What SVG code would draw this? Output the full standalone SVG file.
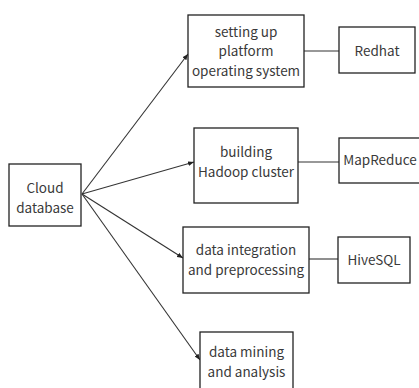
<svg xmlns="http://www.w3.org/2000/svg" width="419" height="388" viewBox="0 0 419 388">
<style>
rect{fill:#fff;stroke:#222;stroke-width:1.3}
text{font-family:"Noto Sans CJK SC","Noto Sans",sans-serif;font-size:13.5px;fill:#3a3a3a;text-anchor:middle}
.c line{stroke:#333;stroke-width:1.1}
</style>
<defs>
<marker id="ah" viewBox="0 0 10 10" refX="10" refY="5" markerWidth="6" markerHeight="6" orient="auto" markerUnits="userSpaceOnUse">
<path d="M0,1 L10,5 L0,9 z" fill="#222"/>
</marker>
</defs>
<rect width="419" height="388" style="fill:#fff;stroke:none"/>
<g class="c" id="connectors">
<line x1="82" y1="194" x2="188" y2="54" marker-end="url(#ah)"/>
<line x1="82" y1="194" x2="194" y2="162" marker-end="url(#ah)"/>
<line x1="82" y1="194" x2="183" y2="258" marker-end="url(#ah)"/>
<line x1="82" y1="194" x2="200" y2="360" marker-end="url(#ah)"/>
<line x1="304" y1="51" x2="339" y2="51"/>
<line x1="298" y1="162" x2="339" y2="162"/>
<line x1="309" y1="259" x2="338" y2="259"/>
</g>
<g id="cloud">
<rect x="9" y="164" width="72" height="62"/>
<text x="45" y="192.5">Cloud</text>
<text x="45" y="212.5">database</text>
</g>
<g id="setup">
<rect x="188" y="15" width="116" height="72"/>
<text x="246" y="36.5">setting up</text>
<text x="246" y="55.5">platform</text>
<text x="246" y="75.5">operating system</text>
</g>
<g id="redhat">
<rect x="339" y="27" width="76" height="46"/>
<text x="377" y="55.5">Redhat</text>
</g>
<g id="hadoop">
<rect x="194" y="128" width="104" height="75"/>
<text x="246" y="156.5">building</text>
<text x="246" y="176.5">Hadoop cluster</text>
</g>
<g id="mapreduce">
<rect x="339" y="138" width="86" height="45"/>
<text x="380" y="164.5">MapReduce</text>
</g>
<g id="integration">
<rect x="183" y="227" width="126" height="66"/>
<text x="246" y="254.5">data integration</text>
<text x="246" y="274.5">and preprocessing</text>
</g>
<g id="hivesql">
<rect x="338" y="237" width="72" height="46"/>
<text x="374" y="264.5">HiveSQL</text>
</g>
<g id="mining">
<rect x="200" y="332" width="93" height="64"/>
<text x="246.5" y="356.5">data mining</text>
<text x="246.5" y="376.5">and analysis</text>
</g>
</svg>
